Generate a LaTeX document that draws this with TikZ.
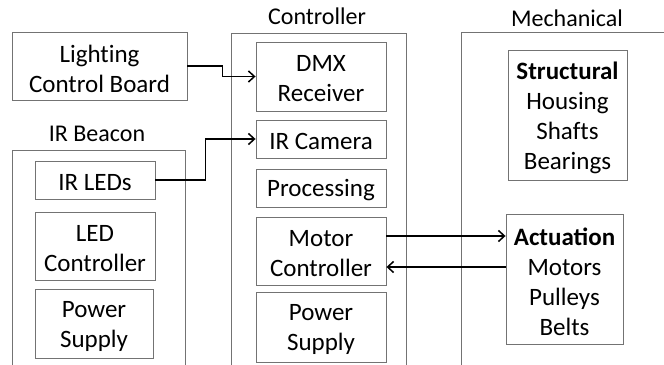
\documentclass[tikz,border=0pt]{standalone}
\usepackage{fontspec}
\setmainfont{Carlito}[Ligatures=NoCommon,BoldFeatures={Ligatures=Common}]
\usetikzlibrary{arrows.meta}
% centred lines set a little below the middle of their box
\newcommand\boxlines[1]{\raisebox{-2.5bp}[\height][\depth]{\vbox{\let\\\cr\halign{\hfil##\hfil\cr#1\crcr}}}}
\begin{document}
\begin{tikzpicture}[x=1bp,y=-1bp,
  group/.style={draw=black!55,line width=0.9bp,minimum width=#1,inner sep=0pt},
  block/.style={draw=black!55,line width=0.9bp,inner sep=0pt,
    font=\fontsize{25bp}{30bp}\selectfont},
  title/.style={font=\fontsize{24bp}{30bp}\selectfont},
  arr/.style={line width=1.5bp,-{Straight Barb[length=6bp,width=11bp,line width=1.5bp]}}]
\useasboundingbox (0,0) rectangle (664,364);

% group frames (they run past the lower and right edges)
\node[group=173bp,minimum height=220bp] (beacon) at (98.5,260) {};
\node[group=175bp,minimum height=337bp] (ctrl) at (318.5,201.5) {};
\node[group=219bp,minimum height=338bp] (mech) at (570.5,201) {};

% group titles
\node[title] (tbeacon) at (97,134) {IR Beacon};
\node[title] (tctrl) at (317,16) {Controller};
\node[title] (tmech) at (567,18) {Mechanical};

% stand-alone source
\node[block,minimum width=175bp,minimum height=68bp] (lcb) at (99.5,66) {\boxlines{Lighting\\Control Board}};

% IR beacon parts
\node[block,minimum width=120bp,minimum height=38bp] (irled) at (95,180) {\boxlines{IR LEDs}};
\node[block,minimum width=120bp,minimum height=68bp] (ledc) at (95,246) {\boxlines{LED\\Controller}};
\node[block,minimum width=118bp,minimum height=69bp] (psb) at (94,323.5) {\boxlines{Power\\Supply}};

% controller parts
\node[block,minimum width=130bp,minimum height=69bp] (dmx) at (321,76.5) {\boxlines{DMX\\Receiver}};
\node[block,minimum width=130bp,minimum height=38bp] (ircam) at (321,139) {\boxlines{IR Camera}};
\node[block,minimum width=130bp,minimum height=38bp] (proc) at (321,188) {\boxlines{Processing}};
\node[block,minimum width=130bp,minimum height=68bp] (motor) at (321,251) {\boxlines{Motor\\Controller}};
\node[block,minimum width=130bp,minimum height=70bp] (psc) at (321,327) {\boxlines{Power\\Supply}};

% mechanical parts
\node[block,minimum width=119bp,minimum height=130bp] (struct) at (567.5,115) {\boxlines{\textbf{Structural}\\Housing\\Shafts\\Bearings}};
\node[block,minimum width=117bp,minimum height=130bp] (act) at (564.5,279) {\boxlines{\textbf{Actuation}\\Motors\\Pulleys\\Belts}};

% signal paths
\draw[arr] (lcb.east) -- ++(35,0) |- (dmx.west);
\draw[arr] (irled.east) -- ++(50,0) |- (ircam.west);
\draw[arr] ([yshift=15bp]motor.east) -- ([yshift=15bp]motor.east -| act.west);
\draw[arr] ([yshift=-16bp]motor.east -| act.west) -- ([yshift=-16bp]motor.east);
\end{tikzpicture}
\end{document}
